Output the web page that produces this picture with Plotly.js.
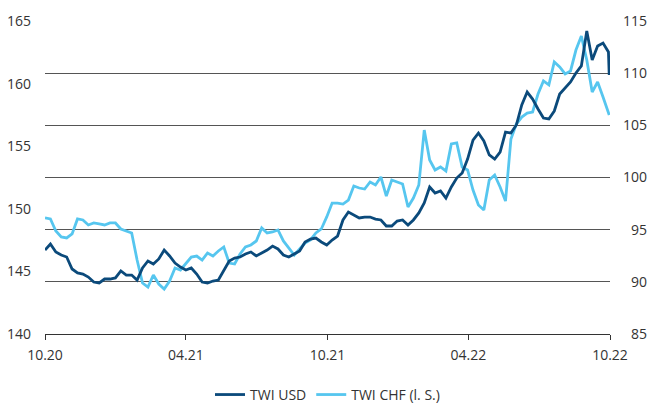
<!DOCTYPE html>
<html>
<head>
<meta charset="utf-8">
<script src="https://cdn.plot.ly/plotly-3.0.1.min.js"></script>
<style>html,body{margin:0;padding:0;background:#fff;}#chart{width:650px;height:408px;}</style>
</head>
<body>
<div id="chart"></div>
<script>
const dates = [
"2020-10-01","2020-10-08","2020-10-15","2020-10-22","2020-10-29","2020-11-05","2020-11-12","2020-11-19","2020-11-26","2020-12-03",
"2020-12-10","2020-12-17","2020-12-24","2020-12-31","2021-01-07","2021-01-14","2021-01-21","2021-01-28","2021-02-04","2021-02-11",
"2021-02-18","2021-02-25","2021-03-04","2021-03-11","2021-03-18","2021-03-25","2021-04-01","2021-04-08","2021-04-15","2021-04-22",
"2021-04-29","2021-05-06","2021-05-13","2021-05-20","2021-05-27","2021-06-03","2021-06-10","2021-06-17","2021-06-24","2021-07-01",
"2021-07-08","2021-07-15","2021-07-22","2021-07-29","2021-08-05","2021-08-12","2021-08-19","2021-08-26","2021-09-02","2021-09-09",
"2021-09-16","2021-09-23","2021-09-30","2021-10-07","2021-10-14","2021-10-21","2021-10-28","2021-11-04","2021-11-11","2021-11-18",
"2021-11-25","2021-12-02","2021-12-09","2021-12-16","2021-12-23","2021-12-30","2022-01-06","2022-01-13","2022-01-20","2022-01-27",
"2022-02-03","2022-02-10","2022-02-17","2022-02-24","2022-03-03","2022-03-10","2022-03-17","2022-03-24","2022-03-31","2022-04-07",
"2022-04-14","2022-04-21","2022-04-28","2022-05-05","2022-05-12","2022-05-19","2022-05-26","2022-06-02","2022-06-09","2022-06-16",
"2022-06-23","2022-06-30","2022-07-07","2022-07-14","2022-07-21","2022-07-28","2022-08-04","2022-08-11","2022-08-18","2022-08-25",
"2022-09-01","2022-09-08","2022-09-15","2022-09-22","2022-09-29","2022-09-30"];

const twiUSD = [
93.05,93.63,92.86,92.57,92.38,91.23,90.85,90.75,90.46,89.98,
89.89,90.27,90.27,90.37,91.04,90.65,90.65,90.17,91.33,92.00,
91.71,92.19,93.05,92.48,91.80,91.42,91.13,91.33,90.75,89.98,
89.89,90.08,90.17,91.13,92.00,92.28,92.38,92.67,92.86,92.48,
92.76,93.05,93.43,93.15,92.57,92.38,92.67,92.95,93.82,94.10,
94.20,93.82,93.53,94.01,94.39,95.93,96.69,96.41,96.12,96.21,
96.21,96.02,95.93,95.35,95.35,95.83,95.93,95.45,95.93,96.60,
97.56,99.09,98.51,98.71,98.03,99.09,99.95,100.43,101.77,103.59,
104.26,103.50,102.16,101.77,102.44,104.36,104.26,105.03,106.95,108.19,
107.52,106.57,105.70,105.61,106.37,108.00,108.58,109.15,110.02,110.69,
114.04,111.26,112.60,112.89,112.03,109.82];

const twiCHF = [
149.27,149.19,148.23,147.75,147.67,147.99,149.19,149.11,148.71,148.87,
148.79,148.71,148.87,148.87,148.39,148.23,148.07,145.91,144.07,143.75,
144.71,143.99,143.59,144.23,145.27,145.11,145.59,146.15,146.23,145.91,
146.47,146.23,146.63,146.95,145.67,145.59,146.39,146.95,147.11,147.43,
148.47,148.07,148.15,148.31,147.43,146.87,146.31,146.79,147.27,147.51,
148.07,148.39,149.35,150.46,150.46,150.38,150.70,151.82,151.66,151.58,
152.14,151.90,152.54,151.02,152.30,152.14,151.98,150.14,150.86,151.90,
156.29,153.90,153.10,153.34,153.02,155.18,155.26,153.34,153.10,151.50,
150.30,149.90,152.30,152.70,151.74,150.62,155.58,156.77,157.33,157.65,
157.73,159.17,160.21,159.89,161.73,161.33,160.77,161.01,162.68,163.80,
161.88,159.33,160.13,158.93,157.73,157.49];

const seriesNames = ["TWI USD", "TWI CHF (l. S.)"];
const xTickVals = ["2020-10-01","2021-04-01","2021-10-01","2022-04-01","2022-10-01"];
const xTickText = ["10.20","04.21","10.21","04.22","10.22"];
const leftTickVals = [140,145,150,155,160,165];
const rightTickVals = [85,90,95,100,105,110,115];
const rightTickText = ["\u200785","\u200790","\u200795","100","105","110","115"];

const FONT = "'Open Sans', 'Noto Sans', sans-serif";
const TXT = "#333333";

const traces = [
  {x: dates, y: twiUSD, name: seriesNames[0], type: "scatter", mode: "lines", yaxis: "y2",
   line: {color: "#0b4a7b", width: 2.8}},
  {x: dates, y: twiCHF, name: seriesNames[1], type: "scatter", mode: "lines", yaxis: "y",
   line: {color: "#56c6ef", width: 2.8}}
];

const layout = {
  width: 650, height: 408,
  margin: {l: 45, r: 40, t: 21, b: 74, pad: 0},
  paper_bgcolor: "#ffffff", plot_bgcolor: "#ffffff",
  font: {family: FONT, size: 14, color: TXT},
  showlegend: true,
  legend: {orientation: "h", xref: "paper", x: 0.5, xanchor: "center",
           yref: "container", y: 0.032, yanchor: "middle",
           font: {family: FONT, size: 14, color: TXT}, itemwidth: 30, traceorder: "normal"},
  xaxis: {type: "date", range: ["2020-10-01", "2022-10-01"], tickmode: "array",
          tickvals: xTickVals, ticktext: xTickText, showgrid: false, zeroline: false,
          showline: true, linecolor: "#333333", linewidth: 1,
          ticks: "outside", ticklen: 5, tickcolor: "#333333", tickwidth: 1,
          ticklabelstandoff: 3, automargin: false, tickfont: {family: FONT, size: 14, color: TXT}},
  yaxis: {range: [140, 165], tickmode: "array", tickvals: leftTickVals, showgrid: false,
          zeroline: false, showline: false, ticks: "", ticklabelstandoff: 13, automargin: false,
          tickfont: {family: FONT, size: 14, color: TXT}},
  yaxis2: {range: [85, 115], overlaying: "y", side: "right", tickmode: "array",
           tickvals: rightTickVals, ticktext: rightTickText, showgrid: true,
           gridcolor: "#555555", gridwidth: 1, zeroline: false, showline: false, ticks: "",
           ticklabelstandoff: 12, automargin: false, tickfont: {family: FONT, size: 14, color: TXT}}
};

Plotly.newPlot("chart", traces, layout, {staticPlot: true, displayModeBar: false});
</script>
</body>
</html>
